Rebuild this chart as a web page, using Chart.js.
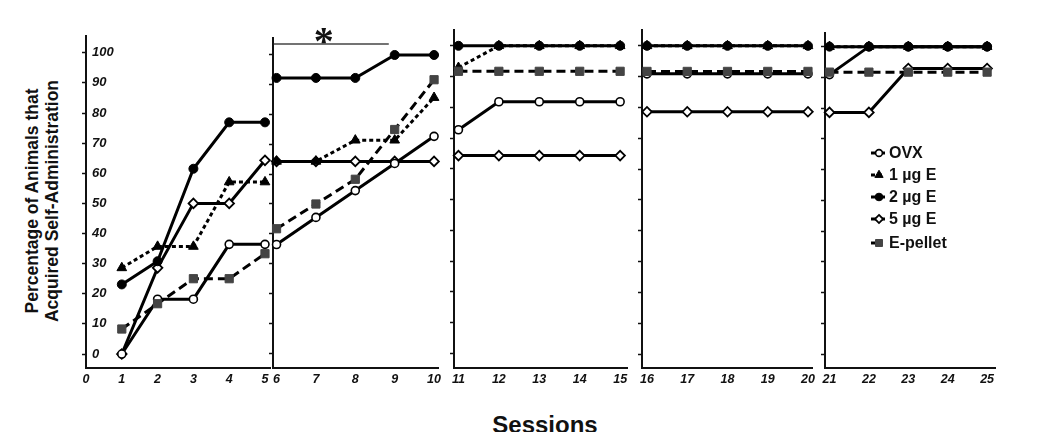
<!DOCTYPE html>
<html><head><meta charset="utf-8">
<script src="https://cdn.jsdelivr.net/npm/chart.js@4.4.1/dist/chart.umd.min.js"></script>
<style>
html,body{margin:0;padding:0;background:#fff;width:1050px;height:432px;overflow:hidden;position:relative;font-family:"Liberation Sans",Arial,sans-serif;}
canvas{position:absolute;}
#ytitle{position:absolute;left:-107px;top:180px;width:300px;height:42px;transform:rotate(-90deg);text-align:center;font-weight:bold;font-size:17.5px;line-height:20px;color:#111;white-space:nowrap;}
#xtitle{position:absolute;left:395px;top:413px;width:300px;text-align:center;font-weight:bold;font-size:24px;line-height:24px;color:#111;}
</style>
</head><body>
<div id="ytitle">Percentage of Animals that<br>Acquired Self-Administration</div>
<div id="xtitle">Sessions</div>
<script>
// ---- data ----
const sessions = [1,2,3,4,5,6,7,8,9,10,11,12,13,14,15,16,17,18,19,20,21,22,23,24,25];
const ovx    = [0,18.2,18.2,36.4,36.4, 36.4,45.5,54.5,63.6,72.7, 72.7,81.8,81.8,81.8,81.8, 90.9,90.9,90.9,90.9,90.9, 90.9,100,100,100,100];
const ug1    = [28.6,35.7,35.7,57.1,57.1, 64.3,64.3,71.4,71.4,85.7, 92.9,100,100,100,100, 100,100,100,100,100, 100,100,100,100,100];
const ug2    = [23.1,30.8,61.5,76.9,76.9, 92.3,92.3,92.3,100,100, 100,100,100,100,100, 100,100,100,100,100, 100,100,100,100,100];
const ug5    = [0,28.6,50,50,64.3, 64.3,64.3,64.3,64.3,64.3, 64.3,64.3,64.3,64.3,64.3, 78.6,78.6,78.6,78.6,78.6, 78.6,78.6,92.9,92.9,92.9];
const pellet = [8.3,16.7,25,25,33.3, 41.7,50,58.3,75,91.7, 91.7,91.7,91.7,91.7,91.7, 91.7,91.7,91.7,91.7,91.7, 91.7,91.7,91.7,91.7,91.7];
const seriesLabels = ['OVX','1 \u00b5g E','2 \u00b5g E','5 \u00b5g E','E-pellet'];
const yTicks = [0,10,20,30,40,50,60,70,80,90,100];
const panelTicks = [[0,1,2,3,4,5],[6,7,8,9,10],[11,12,13,14,15],[16,17,18,19,20],[21,22,23,24,25]];
const panelSpan = [[1,5],[6,10],[11,15],[16,20],[21,25]];

// ---- layout / style ----
const BOTTOM = 368, WY = 10, HX = 24, PADR = 14;
const panels = [
  {axisX:86,  right:270, top:35, xMin:0,      xMax:5.14,  yMin:-4.64, yMax:105.63},
  {axisX:273, right:438, top:38, xMin:5.91,   xMax:10.1,  yMin:-5.03, yMax:105.7},
  {axisX:454, right:627, top:29, xMin:10.89,  xMax:15.17, yMin:-4.77, yMax:105.2},
  {axisX:642, right:812, top:29, xMin:15.876, xMax:20.1,  yMin:-4.53, yMax:105.2},
  {axisX:825, right:995, top:32, xMin:20.886, xMax:25.2,  yMin:-4.55, yMax:104.5}
];
const styles = [
  {values:ovx,    dash:[],    point:'circle',   r:4.0, fill:'#fff',    edge:'#000',    bw:1.6, order:3},
  {values:ug1,    dash:[4,3], point:'triangle', r:5.6, fill:'#000',    edge:'#000',    bw:1,   order:2},
  {values:ug2,    dash:[],    point:'circle',   r:4.5, fill:'#000',    edge:'#000',    bw:1,   order:1},
  {values:ug5,    dash:[],    point:'rectRot',  r:4.8, fill:'#fff',    edge:'#000',    bw:1.8, order:4},
  {values:pellet, dash:[9,5], point:'rect',     r:5.8, fill:'#444444', edge:'#444444', bw:1,   order:0}
];
const LINE_W = 3;
const FONT = '"Liberation Sans", Arial, sans-serif';

function marker(ctx, st, x, y){
  ctx.save();
  ctx.setLineDash([]);
  ctx.fillStyle = st.fill; ctx.strokeStyle = st.edge; ctx.lineWidth = st.bw;
  ctx.beginPath();
  const r = st.r;
  if (st.point === 'circle') ctx.arc(x, y, r, 0, Math.PI*2);
  else if (st.point === 'triangle') { ctx.moveTo(x, y-r); ctx.lineTo(x+r*0.866, y+r*0.5); ctx.lineTo(x-r*0.866, y+r*0.5); ctx.closePath(); }
  else if (st.point === 'rectRot') { ctx.moveTo(x, y-r); ctx.lineTo(x+r, y); ctx.lineTo(x, y+r); ctx.lineTo(x-r, y); ctx.closePath(); }
  else { const s = r*Math.SQRT1_2; ctx.rect(x-s, y-s, 2*s, 2*s); }
  ctx.fill(); ctx.stroke();
  ctx.restore();
}

const legendYs = [153,175,197,219,243];
panels.forEach((p, i) => {
  const padTop = i === 1 ? 22 : 6;
  const left = p.axisX - WY, top = p.top - padTop;
  const w = WY + (p.right - p.axisX) + PADR;
  const h = padTop + (BOTTOM - p.top) + HX;
  const cv = document.createElement('canvas');
  cv.width = w; cv.height = h;
  cv.style.left = left + 'px'; cv.style.top = top + 'px';
  cv.style.width = w + 'px'; cv.style.height = h + 'px';
  document.body.appendChild(cv);
  const lo = panelSpan[i][0] - 1, hi = panelSpan[i][1];
  const datasets = styles.map((s, k) => ({
    label: seriesLabels[k],
    data: sessions.slice(lo, hi).map((x, j) => ({x: x, y: s.values[lo + j]})),
    borderColor: '#000', borderWidth: LINE_W, borderDash: s.dash,
    pointStyle: s.point, pointRadius: s.r, pointHoverRadius: s.r,
    pointBackgroundColor: s.fill, pointBorderColor: s.edge, pointBorderWidth: s.bw,
    tension: 0, clip: false, fill: false, order: s.order
  }));
  const plugins = [];
  if (i === 1) {
    plugins.push({id:'star', afterDraw(chart){
      const ctx = chart.ctx, xs = chart.scales.x, ys = chart.scales.y;
      const y = ys.getPixelForValue(103.7);
      ctx.save();
      ctx.strokeStyle = '#444'; ctx.lineWidth = 1.5;
      ctx.beginPath(); ctx.moveTo(xs.getPixelForValue(5.93), y); ctx.lineTo(xs.getPixelForValue(8.85), y); ctx.stroke();
      ctx.fillStyle = '#111';
      ctx.font = 'bold 40px "Liberation Serif", serif';
      ctx.textAlign = 'center'; ctx.textBaseline = 'alphabetic';
      ctx.fillText('*', xs.getPixelForValue(7.2), y + 10);
      ctx.restore();
    }});
  }
  if (i === 4) {
    plugins.push({id:'legendBox', afterDraw(chart){
      const ctx = chart.ctx;
      [0,1,2,3,4].forEach((k, n) => {
        const st = styles[k];
        const y = legendYs[n] - top;
        ctx.save();
        ctx.strokeStyle = '#000'; ctx.lineWidth = LINE_W; ctx.setLineDash(st.dash);
        ctx.beginPath(); ctx.moveTo(871 - left, y); ctx.lineTo(885 - left, y); ctx.stroke();
        ctx.restore();
        marker(ctx, Object.assign({}, st, {r: st.r * 0.85}), 879 - left, y);
        ctx.save();
        ctx.fillStyle = '#111';
        ctx.font = 'bold 16px ' + FONT;
        ctx.textAlign = 'left'; ctx.textBaseline = 'middle';
        ctx.fillText(seriesLabels[k], 889 - left, y + 1);
        ctx.restore();
      });
    }});
  }
  new Chart(cv, {
    type: 'line',
    data: {datasets},
    plugins,
    options: {
      responsive: false, animation: false, devicePixelRatio: 1,
      layout: {padding: {left: 0, right: PADR, top: padTop, bottom: 0}},
      plugins: {legend: {display: false}, tooltip: {enabled: false}},
      scales: {
        x: {
          type: 'linear', min: p.xMin, max: p.xMax,
          afterBuildTicks: s => { s.ticks = panelTicks[i].map(v => ({value: v})); },
          afterFit: s => { s.height = HX; s.paddingLeft = 0; s.paddingRight = 0; },
          border: {display: true, color: '#111', width: 2},
          grid: {drawOnChartArea: false, drawTicks: false},
          ticks: {padding: 4, maxRotation: 0, autoSkip: false, color: '#111',
                  font: {family: FONT, size: 12.5, weight: 'bold', style: 'italic'}}
        },
        y: {
          type: 'linear', min: p.yMin, max: p.yMax,
          afterBuildTicks: s => { s.ticks = yTicks.map(v => ({value: v})); },
          afterFit: s => { s.width = WY; s.paddingTop = 0; s.paddingBottom = 0; },
          border: {display: true, color: '#111', width: 2},
          grid: {drawOnChartArea: false, drawTicks: true, tickLength: 4, tickColor: '#111', tickWidth: 1.5},
          ticks: {display: i === 0, mirror: true, padding: 6, color: '#111',
                  font: {family: FONT, size: 13, weight: 'bold', style: 'italic'}}
        }
      }
    }
  });
});
</script>
</body></html>
